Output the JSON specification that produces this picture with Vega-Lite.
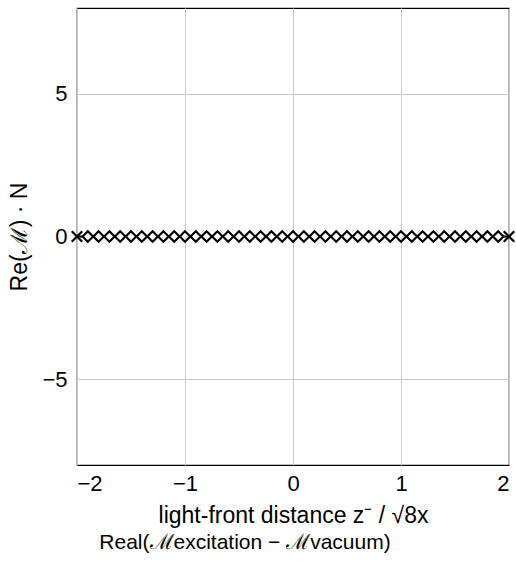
{
  "$schema": "https://vega.github.io/schema/vega-lite/v6.json",
  "width": 432,
  "height": 457,
  "autosize": {"type": "none"},
  "padding": {"left": 77, "top": 8, "right": 7, "bottom": 99},
  "background": "white",
  "config": {
    "font": "Liberation Sans",
    "view": {"stroke": "black", "strokeWidth": 1.2},
    "axis": {
      "gridColor": "#c8c8c8",
      "gridWidth": 1,
      "domain": false,
      "ticks": false,
      "labelFontSize": 22,
      "labelColor": "black",
      "titleFontSize": 23,
      "titleFontWeight": "normal",
      "titleColor": "black"
    }
  },
  "title": {
    "text": "Real(ℳexcitation − ℳvacuum)",
    "orient": "bottom",
    "anchor": "middle",
    "frame": "group",
    "fontSize": 21,
    "fontWeight": "normal",
    "color": "black",
    "dx": -48,
    "offset": 5
  },
  "data": {
    "values": [
      {"x": -2.0, "y": 0, "m": "cross"},
      {"x": -1.9, "y": 0, "m": "diamond"},
      {"x": -1.8, "y": 0, "m": "diamond"},
      {"x": -1.7, "y": 0, "m": "diamond"},
      {"x": -1.6, "y": 0, "m": "diamond"},
      {"x": -1.5, "y": 0, "m": "diamond"},
      {"x": -1.4, "y": 0, "m": "diamond"},
      {"x": -1.3, "y": 0, "m": "diamond"},
      {"x": -1.2, "y": 0, "m": "diamond"},
      {"x": -1.1, "y": 0, "m": "diamond"},
      {"x": -1.0, "y": 0, "m": "diamond"},
      {"x": -0.9, "y": 0, "m": "diamond"},
      {"x": -0.8, "y": 0, "m": "diamond"},
      {"x": -0.7, "y": 0, "m": "diamond"},
      {"x": -0.6, "y": 0, "m": "diamond"},
      {"x": -0.5, "y": 0, "m": "diamond"},
      {"x": -0.4, "y": 0, "m": "diamond"},
      {"x": -0.3, "y": 0, "m": "diamond"},
      {"x": -0.2, "y": 0, "m": "diamond"},
      {"x": -0.1, "y": 0, "m": "diamond"},
      {"x": 0.0, "y": 0, "m": "diamond"},
      {"x": 0.1, "y": 0, "m": "diamond"},
      {"x": 0.2, "y": 0, "m": "diamond"},
      {"x": 0.3, "y": 0, "m": "diamond"},
      {"x": 0.4, "y": 0, "m": "diamond"},
      {"x": 0.5, "y": 0, "m": "diamond"},
      {"x": 0.6, "y": 0, "m": "diamond"},
      {"x": 0.7, "y": 0, "m": "diamond"},
      {"x": 0.8, "y": 0, "m": "diamond"},
      {"x": 0.9, "y": 0, "m": "diamond"},
      {"x": 1.0, "y": 0, "m": "diamond"},
      {"x": 1.1, "y": 0, "m": "diamond"},
      {"x": 1.2, "y": 0, "m": "diamond"},
      {"x": 1.3, "y": 0, "m": "diamond"},
      {"x": 1.4, "y": 0, "m": "diamond"},
      {"x": 1.5, "y": 0, "m": "diamond"},
      {"x": 1.6, "y": 0, "m": "diamond"},
      {"x": 1.7, "y": 0, "m": "diamond"},
      {"x": 1.8, "y": 0, "m": "diamond"},
      {"x": 1.9, "y": 0, "m": "diamond"},
      {"x": 2.0, "y": 0, "m": "cross"}
    ]
  },
  "encoding": {
    "x": {
      "field": "x",
      "type": "quantitative",
      "scale": {"domain": [-2, 2], "nice": false, "zero": false},
      "axis": {
        "values": [-2, -1, 0, 1, 2],
        "labelPadding": 8,
        "title": "light-front distance  z⁻ / √8x",
        "titlePadding": 10
      }
    },
    "y": {
      "field": "y",
      "type": "quantitative",
      "scale": {"domain": [-8, 8], "nice": false, "zero": false},
      "axis": {
        "values": [-5, 0, 5],
        "labelPadding": 10,
        "title": "Re(ℳ) · N",
        "titlePadding": 10
      }
    }
  },
  "layer": [
    {
      "mark": {"type": "line", "color": "black", "strokeWidth": 1.8}
    },
    {
      "mark": {"type": "point", "fill": "white", "stroke": "black", "strokeWidth": 2.2, "opacity": 1, "size": 110},
      "encoding": {
        "shape": {
          "field": "m",
          "type": "nominal",
          "scale": {"domain": ["diamond", "cross"], "range": ["diamond", "M-1,-1L1,1M-1,1L1,-1"]},
          "legend": null
        }
      }
    }
  ]
}
